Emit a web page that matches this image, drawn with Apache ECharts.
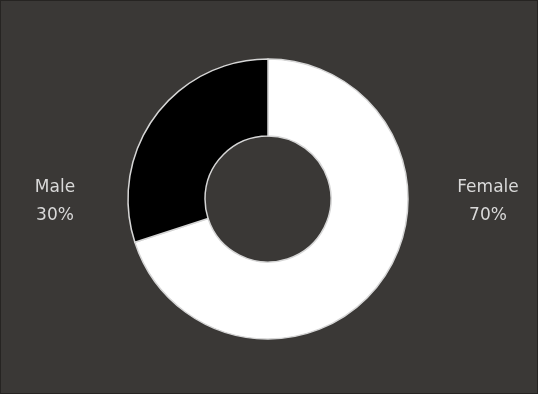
<!DOCTYPE html>
<html>
<head>
<meta charset="utf-8">
<script src="https://cdn.jsdelivr.net/npm/echarts@6/dist/echarts.min.js"></script>
<style>
  html, body { margin: 0; padding: 0; background: #3a3836; }
  #chart { width: 538px; height: 394px; box-sizing: border-box; border: 1px solid #262422; }
</style>
</head>
<body>
<div id="chart"></div>
<script>
var genders = ['Female', 'Male'];
var shares = [70, 30];
var sliceColors = ['#ffffff', '#000000'];
var labelX = [487, 54];

var chart = echarts.init(document.getElementById('chart'));

chart.setOption({
    animation: false,
    backgroundColor: '#3a3836',
    series: [
        {
            type: 'pie',
            center: [267, 198],
            radius: [63, 140],
            startAngle: 90,
            clockwise: true,
            data: genders.map(function (g, i) {
                return { name: g, value: shares[i], itemStyle: { color: sliceColors[i] } };
            }),
            itemStyle: { borderColor: '#d6d6d6', borderWidth: 1.5 },
            label: {
                show: true,
                position: 'outside',
                formatter: '{b}\n{d}%',
                color: '#d9d9d9',
                fontFamily: 'DejaVu Sans',
                fontSize: 17,
                lineHeight: 28
            },
            labelLine: { show: false },
            labelLayout: function (params) {
                return {
                    x: labelX[params.dataIndex],
                    y: 201,
                    align: 'center',
                    verticalAlign: 'middle'
                };
            }
        }
    ]
});
</script>
</body>
</html>
